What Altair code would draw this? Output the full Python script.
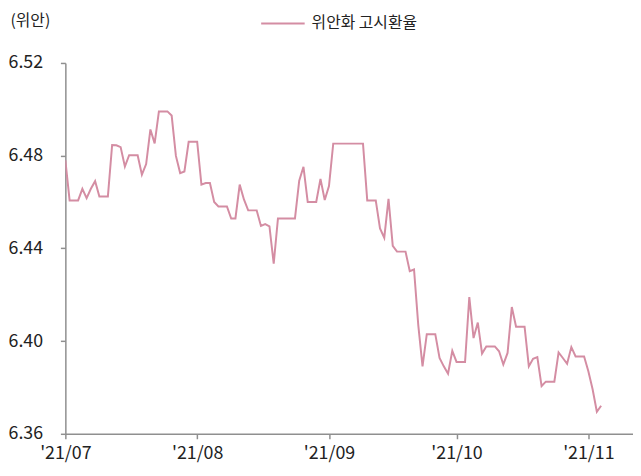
import altair as alt
import pandas as pd

start_date = "2021-07-01"
rate = [
    6.4780, 6.4607, 6.4607, 6.4607, 6.4657, 6.4617, 6.4657, 6.4690, 6.4624, 6.4624,
    6.4624, 6.4846, 6.4845, 6.4837, 6.4753, 6.4802, 6.4802, 6.4802, 6.4718, 6.4764,
    6.4913, 6.4853, 6.4991, 6.4991, 6.4991, 6.4973, 6.4799, 6.4725, 6.4732, 6.4860,
    6.4860, 6.4860, 6.4675, 6.4682, 6.4682, 6.4600, 6.4581, 6.4581, 6.4581, 6.4529,
    6.4529, 6.4675, 6.4611, 6.4564, 6.4564, 6.4564, 6.4497, 6.4505, 6.4495, 6.4334,
    6.4529, 6.4529, 6.4529, 6.4529, 6.4529, 6.4692, 6.4752, 6.4600, 6.4600, 6.4600,
    6.4700, 6.4609, 6.4669, 6.4852, 6.4852, 6.4852, 6.4852, 6.4852, 6.4852, 6.4852,
    6.4852, 6.4607, 6.4607, 6.4607, 6.4486, 6.4446, 6.4614, 6.4411, 6.4386, 6.4386,
    6.4386, 6.4302, 6.4309, 6.4069, 6.3891, 6.4030, 6.4030, 6.4030, 6.3927, 6.3891,
    6.3859, 6.3958, 6.3910, 6.3910, 6.3910, 6.4190, 6.4013, 6.4080, 6.3946, 6.3977,
    6.3977, 6.3977, 6.3956, 6.3899, 6.3949, 6.4147, 6.4062, 6.4062, 6.4062, 6.3891,
    6.3924, 6.3931, 6.3806, 6.3825, 6.3825, 6.3825, 6.3951, 6.3927, 6.3902, 6.3974,
    6.3934, 6.3934, 6.3934, 6.3870, 6.3792, 6.3695, 6.3721,
]
series_name = "위안화 고시환율"
y_ticks = [6.36, 6.40, 6.44, 6.48, 6.52]
tick_months = [7, 8, 9, 10, 11]

dates = pd.date_range(start_date, periods=len(rate), freq="D").strftime("%Y-%m-%d")
df = pd.DataFrame({"date": dates, "rate": rate, "series": series_name})

FONT = "Noto Sans CJK KR"
LINE = "#D48DA3"
AXIS = "#8f8f8f"
TEXT = "#222222"

chart = alt.Chart(df).mark_line(strokeWidth=2, clip=True).encode(
    x=alt.X(
        "date:T",
        scale=alt.Scale(
            type="utc",
            domain=[alt.DateTime(year=2021, month=7, date=1, utc=True),
                    alt.DateTime(year=2021, month=11, date=11, hours=12, utc=True)],
        ),
        axis=alt.Axis(
            values=[alt.DateTime(year=2021, month=m, date=1, utc=True) for m in tick_months],
            labelExpr="\"'\" + utcFormat(datum.value, '%y/%m')",
            title=None,
            grid=False,
            domainColor=AXIS,
            domainWidth=1.5,
            tickColor=AXIS,
            tickWidth=1.5,
            tickSize=5,
            labelFont=FONT,
            labelFontSize=18,
            labelColor=TEXT,
            labelPadding=6,
            labelFlush=False,
        ),
    ),
    y=alt.Y(
        "rate:Q",
        scale=alt.Scale(domain=[6.36, 6.52], zero=False, nice=False),
        axis=alt.Axis(
            values=y_ticks,
            format=".2f",
            title="(위안)",
            titleAngle=0,
            titleAlign="left",
            titleBaseline="middle",
            titleX=-56,
            titleY=-43,
            titleFont=FONT,
            titleFontSize=16,
            titleFontWeight="normal",
            titleColor=TEXT,
            grid=False,
            domainColor=AXIS,
            domainWidth=1.5,
            tickColor=AXIS,
            tickWidth=1.5,
            tickSize=5,
            labelFont=FONT,
            labelFontSize=18,
            labelColor=TEXT,
            labelPadding=18,
        ),
    ),
    color=alt.Color(
        "series:N",
        scale=alt.Scale(range=[LINE]),
        legend=alt.Legend(
            title=None,
            orient="none",
            legendX=197,
            legendY=-63,
            symbolType="stroke",
            symbolSize=1936,
            symbolStrokeWidth=2,
            labelFont=FONT,
            labelFontSize=16,
            labelColor=TEXT,
            labelOffset=6,
        ),
    ),
).properties(
    width=574,
    height=375,
    autosize=alt.AutoSizeParams(type="none"),
    padding={"left": 58, "top": 53, "right": 0, "bottom": 32},
).configure_view(stroke=None)

chart.save("out.html", embed_options={"renderer": "svg", "actions": False})
